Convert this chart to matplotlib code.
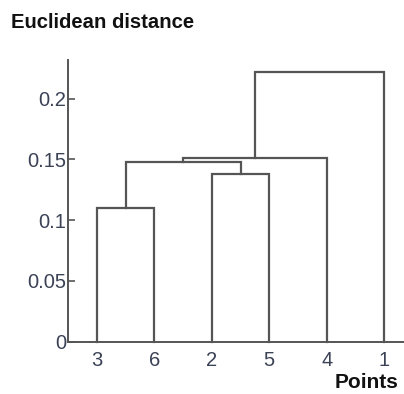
import matplotlib
matplotlib.use("Agg")
import matplotlib.pyplot as plt

plt.rcParams['font.family'] = ['Liberation Sans', 'DejaVu Sans']

# Data
leaf_labels = ['3', '6', '2', '5', '4', '1']
# merges: (left member, right member, height); members are leaf labels or cluster ids 'c0'..
merge_left = ['3', '2', 'c0', 'c2', 'c3']
merge_right = ['6', '5', 'c1', '4', '1']
merge_heights = [0.110, 0.138, 0.148, 0.151, 0.222]
yticks = [0, 0.05, 0.1, 0.15, 0.2]
ytick_labels = ['0', '0.05', '0.1', '0.15', '0.2']

W, H = 404, 394
fig = plt.figure(figsize=(W / 100, H / 100), dpi=100)
left, bottom = 68 / W, 1 - 341.5 / H
top = 1 - 60 / H
ax = fig.add_axes([left, bottom, 1 - left, top - bottom])

line_col = '#555555'
pos = {lab: i + 1 for i, lab in enumerate(leaf_labels)}
hgt = {lab: 0.0 for lab in leaf_labels}
for k, (a, b, h) in enumerate(zip(merge_left, merge_right, merge_heights)):
    xa, xb = pos[a], pos[b]
    ax.plot([xa, xa, xb, xb], [hgt[a], h, h, hgt[b]], color=line_col, lw=1.6,
            solid_joinstyle='miter', clip_on=False)
    cid = 'c%d' % k
    pos[cid] = (xa + xb) / 2
    hgt[cid] = h

spacing = 57.5
ax.set_xlim(0.5, 0.5 + (W - 68) / spacing)
ax.set_ylim(0, 0.232)
ax.set_xticks(range(1, len(leaf_labels) + 1))
ax.set_xticklabels(leaf_labels)
ax.set_yticks(yticks)
ax.set_yticklabels(ytick_labels)

for s in ['top', 'right']:
    ax.spines[s].set_visible(False)
for s in ['left', 'bottom']:
    ax.spines[s].set_color('#555555')
    ax.spines[s].set_linewidth(1.4)

label_col = '#3b4256'
ax.tick_params(axis='y', direction='in', length=5, width=1.2, color='#555555',
               pad=1, labelsize=14.5, labelcolor=label_col)
ax.tick_params(axis='x', length=0, pad=7, labelsize=14.5, labelcolor=label_col)

fig.text(11 / W, 1 - 22 / H, 'Euclidean distance', fontsize=14.6, fontweight='bold',
         ha='left', va='center', color='#111111')
fig.text(398 / W, 1 - 383 / H, 'Points', fontsize=15, fontweight='bold',
         ha='right', va='center', color='#111111')

fig.savefig('out.png', dpi=100)
